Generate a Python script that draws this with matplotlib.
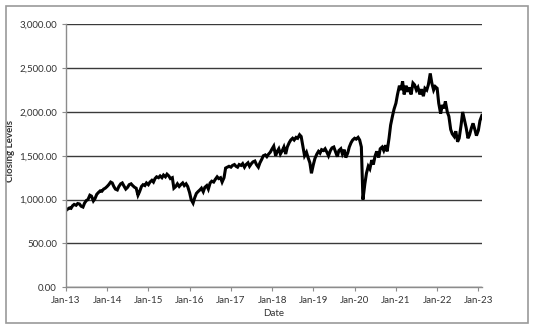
import matplotlib
matplotlib.use("Agg")
import matplotlib.pyplot as plt
import matplotlib.dates as mdates
from matplotlib.ticker import FuncFormatter, MultipleLocator
from matplotlib.patches import Rectangle
import pandas as pd

plt.rcParams['font.family'] = ['Lato', 'DejaVu Sans']

# semi-monthly closing levels (1st and 16th of each month)
y2013 = [875, 890, 905, 900, 930, 945, 935, 955, 950, 925, 915, 960,
         990, 1000, 1050, 1040, 985, 1010, 1060, 1080, 1100, 1095, 1120, 1130]
y2014 = [1150, 1170, 1200, 1190, 1150, 1120, 1110, 1150, 1180, 1190, 1150, 1120,
         1140, 1170, 1180, 1160, 1140, 1130, 1050, 1090, 1150, 1170, 1160, 1190]
y2015 = [1170, 1200, 1220, 1200, 1240, 1260, 1250, 1270, 1250, 1280, 1260, 1290,
         1270, 1240, 1250, 1130, 1150, 1180, 1150, 1170, 1190, 1160, 1180, 1150]
y2016 = [1080, 1000, 960, 1020, 1070, 1090, 1110, 1130, 1090, 1140, 1160, 1120,
         1190, 1210, 1200, 1230, 1260, 1240, 1250, 1200, 1250, 1360, 1370, 1380]
y2017 = [1370, 1390, 1400, 1380, 1370, 1400, 1390, 1410, 1370, 1400, 1420, 1380,
         1410, 1430, 1440, 1400, 1370, 1420, 1460, 1500, 1510, 1490, 1520, 1540]
y2018 = [1580, 1610, 1500, 1550, 1580, 1520, 1560, 1600, 1520, 1600, 1650, 1680,
         1700, 1680, 1710, 1700, 1740, 1720, 1600, 1500, 1540, 1480, 1420, 1300]
y2019 = [1400, 1470, 1520, 1550, 1530, 1570, 1560, 1580, 1540, 1500, 1560, 1590,
         1600, 1550, 1490, 1560, 1580, 1520, 1570, 1480, 1530, 1600, 1650, 1680]
y2020 = [1700, 1690, 1710, 1680, 1600, 1000, 1180, 1300, 1380, 1350, 1450, 1400,
         1500, 1550, 1480, 1580, 1600, 1560, 1620, 1550, 1700, 1850, 1950, 2030]
y2021 = [2100, 2200, 2300, 2250, 2350, 2200, 2300, 2230, 2280, 2200, 2330, 2310,
         2250, 2280, 2200, 2260, 2180, 2270, 2250, 2310, 2440, 2330, 2250, 2290]
y2022 = [2270, 2100, 1980, 2080, 2040, 2120, 2000, 1950, 1800, 1750, 1720, 1780,
         1660, 1700, 1850, 2000, 1900, 1820, 1700, 1740, 1820, 1870, 1800, 1730]
y2023 = [1790, 1900, 1960]

levels = y2013 + y2014 + y2015 + y2016 + y2017 + y2018 + y2019 + y2020 + y2021 + y2022 + y2023
dates = pd.date_range('2013-01-01', periods=len(levels), freq='SMS')

fig = plt.figure(figsize=(5.36, 3.29), dpi=100)
ax = fig.add_axes([0.123, 0.127, 0.776, 0.799])

ax.plot(dates, levels, color='black', lw=2.2, solid_joinstyle='miter')

ax.set_ylim(0, 3000)
ax.set_xlim(pd.Timestamp('2013-01-01'), pd.Timestamp('2023-02-01'))
ax.yaxis.set_major_locator(MultipleLocator(500))
ax.yaxis.set_major_formatter(FuncFormatter(lambda v, p: '{:,.2f}'.format(v)))
ax.xaxis.set_major_locator(mdates.YearLocator(1, month=1, day=1))
ax.xaxis.set_major_formatter(mdates.DateFormatter('%b-%y'))

ax.grid(axis='y', color='#3a3a3a', lw=1.0)
ax.set_axisbelow(True)
for s in ['top', 'right']:
    ax.spines[s].set_visible(False)
for s in ['left', 'bottom']:
    ax.spines[s].set_color('#8c8c8c')
    ax.spines[s].set_linewidth(1.0)
ax.tick_params(axis='both', labelsize=7, colors='#8c8c8c', labelcolor='#333333',
               length=3, width=0.8)

ax.set_xlabel('Date', fontsize=7, color='#333333', labelpad=3)
ax.set_ylabel('Closing Levels', fontsize=7, color='#333333', fontweight='bold')
ax.yaxis.set_label_coords(-0.123, 0.52)

# chart border like the Excel frame
fig.patches.append(Rectangle((6 / 536, 6 / 329), 522 / 536, 317 / 329,
                             transform=fig.transFigure, fill=False,
                             edgecolor='#9a9a9a', lw=1.2))

fig.savefig('out.png', dpi=100)
